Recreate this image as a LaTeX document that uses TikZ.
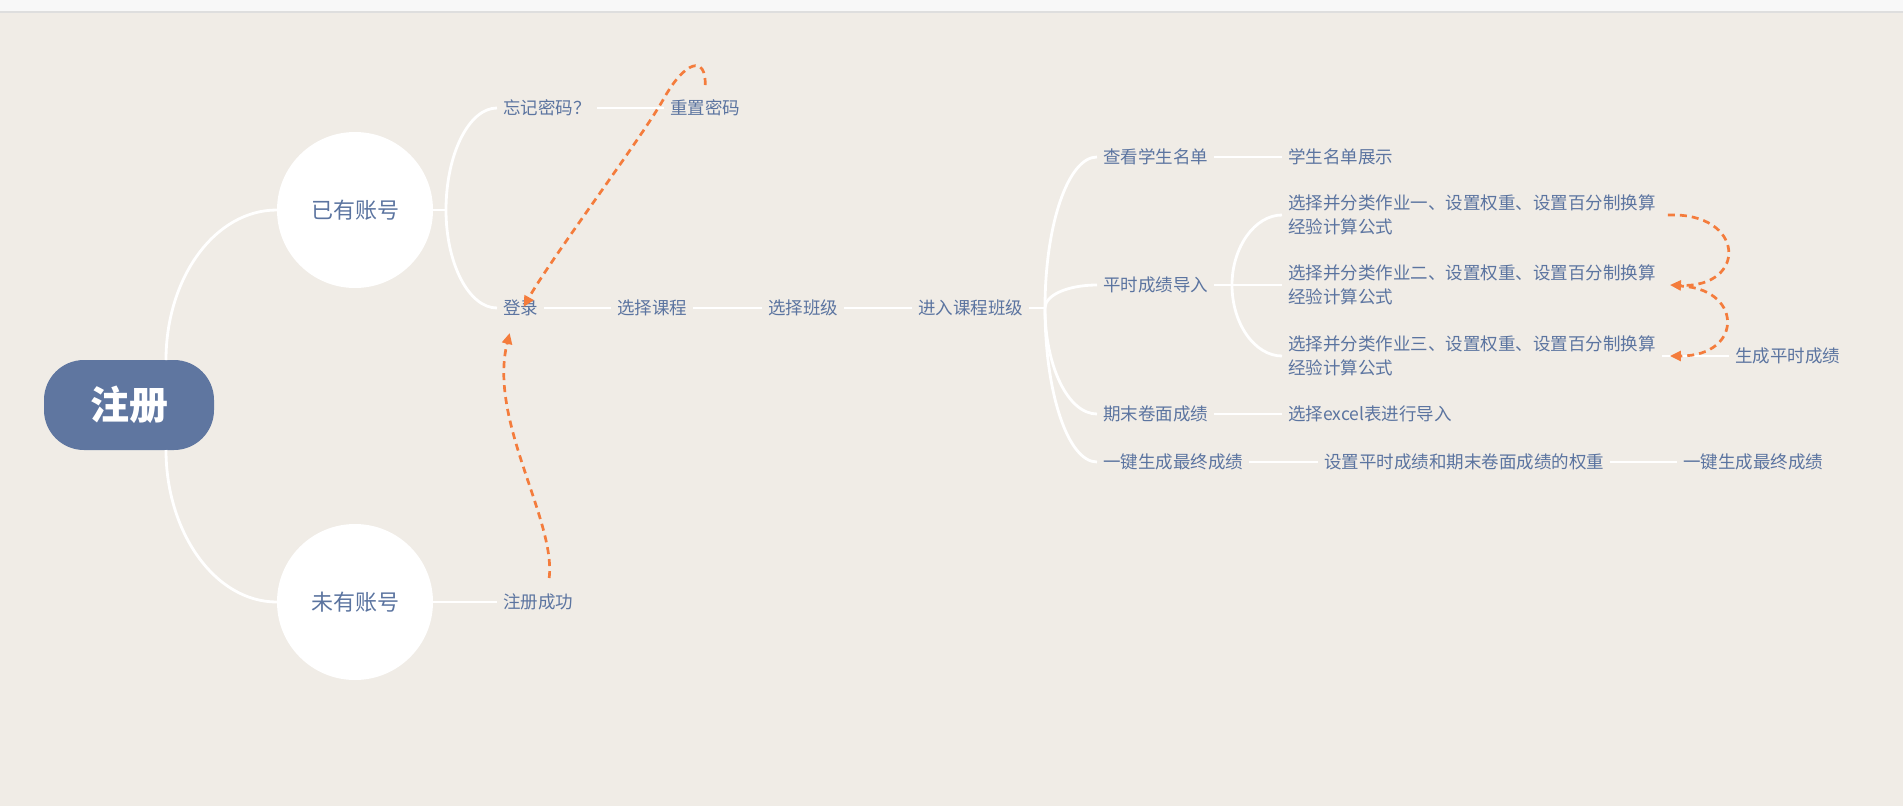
\documentclass[tikz,border=0pt]{standalone}
\usepackage{fontspec}
\setmainfont{Noto Sans CJK SC}
\usetikzlibrary{arrows.meta}
\definecolor{bg}{HTML}{F0ECE6}
\definecolor{topbar}{HTML}{F8F8F8}
\definecolor{topline}{HTML}{DEDEDE}
\definecolor{nodeblue}{HTML}{5F76A0}
\definecolor{txt}{HTML}{5B74A0}
\definecolor{rel}{HTML}{F47C3C}
\begin{document}
\begin{tikzpicture}[x=1pt,y=-1pt,
  lbl/.style={anchor=west, inner xsep=6pt, inner ysep=2pt, text=txt, align=left, font=\fontsize{17.5}{23.5}\selectfont},
  circ/.style={circle, fill=white, minimum size=156pt, inner sep=0pt, text=txt, font=\fontsize{22}{26}\selectfont},
  link/.style={draw=white, line width=2.8pt},
  relarrow/.style={draw=rel, line width=2.7pt, dash pattern=on 7pt off 5pt, -{Triangle[length=11pt,width=10pt]}},
]
\useasboundingbox (0,0) rectangle (1903,806);
\fill[bg] (0,0) rectangle (1903,806);
\fill[topbar] (0,0) rectangle (1903,12);
\draw[topline, line width=1.5pt] (0,12) -- (1903,12);

% nodes
\node[fill=nodeblue, rounded corners=40pt, minimum width=170pt, minimum height=90pt, inner sep=0pt, text=white, font=\fontsize{39}{44}\selectfont\bfseries] (reg) at (129,405) {注册};
\node[circ] (has) at (355,210) {已有账号};
\node[circ] (no) at (355,602) {未有账号};

\node[lbl] (forgot) at (497,108) {忘记密码？};
\node[lbl] (reset) at (664,108) {重置密码};
\node[lbl] (login) at (497,308) {登录};
\node[lbl] (course) at (611,308) {选择课程};
\node[lbl] (cls) at (762,308) {选择班级};
\node[lbl] (enter) at (912,308) {进入课程班级};
\node[lbl] (succ) at (497,602) {注册成功};

\node[lbl] (view) at (1097,157) {查看学生名单};
\node[lbl] (show) at (1282,157) {学生名单展示};
\node[lbl] (usual) at (1097,285) {平时成绩导入};
\node[lbl] (hw1) at (1282,215) {选择并分类作业一、设置权重、设置百分制换算\\经验计算公式};
\node[lbl] (hw2) at (1282,285) {选择并分类作业二、设置权重、设置百分制换算\\经验计算公式};
\node[lbl] (hw3) at (1282,356) {选择并分类作业三、设置权重、设置百分制换算\\经验计算公式};
\node[lbl] (gen) at (1729,356) {生成平时成绩};
\node[lbl] (final) at (1097,414) {期末卷面成绩};
\node[lbl] (excel) at (1282,414) {选择excel表进行导入};
\node[lbl] (onekey) at (1097,462) {一键生成最终成绩};
\node[lbl] (setw) at (1318,462) {设置平时成绩和期末卷面成绩的权重};
\node[lbl] (result) at (1677,462) {一键生成最终成绩};

% branch points
\coordinate (r1) at (166,360);
\coordinate (r2) at (166,450);
\coordinate (hb) at (446,210);
\coordinate (eb) at (1045,308);
\coordinate (ub) at (1232,285);

% white connectors
\draw[link] (r1) .. controls +(0,-82) and +(-62,0) .. (has.west);
\draw[link] (r2) .. controls +(0,82) and +(-62,0) .. (no.west);
\draw[link] (has.east) -- (hb);
\draw[link] (hb) .. controls +(0,-56) and +(-28,0) .. (forgot.west);
\draw[link] (hb) .. controls +(0,54) and +(-28,0) .. (login.west);
\draw[link] (forgot.east) -- (reset.west);
\draw[link] (no.east) -- (succ.west);
\draw[link] (login.east) -- (course.west);
\draw[link] (course.east) -- (cls.west);
\draw[link] (cls.east) -- (enter.west);
\draw[link] (enter.east) -- (eb);
\draw[link] (eb) .. controls +(0,-83) and +(-29,0) .. (view.west);
\draw[link] (eb) .. controls +(0,-13) and +(-29,0) .. (usual.west);
\draw[link] (eb) .. controls +(0,58) and +(-29,0) .. (final.west);
\draw[link] (eb) .. controls +(0,85) and +(-29,0) .. (onekey.west);
\draw[link] (view.east) -- (show.west);
\draw[link] (usual.east) -- (hw2.west);
\draw[link] (ub) .. controls +(0,-38) and +(-27,0) .. (hw1.west);
\draw[link] (ub) .. controls +(0,39) and +(-27,0) .. (hw3.west);
\draw[link] (hw3.east) -- (gen.west);
\draw[link] (final.east) -- (excel.west);
\draw[link] (onekey.east) -- (setw.west);
\draw[link] (setw.east) -- (result.west);

% relationship arrows
\draw[relarrow] ([yshift=23pt]reset.center) .. controls (706,55) and (685,60) .. (663,100) .. controls (640,140) and (550,260) .. ([xshift=3pt,yshift=1pt]login.center);
\draw[relarrow] ([xshift=11pt,yshift=24pt]succ.center) .. controls (556,520) and (488,420) .. ([xshift=-11pt,yshift=-25pt]login.center);
\draw[relarrow] ([xshift=6pt]hw1.east) .. controls +(78,-3) and +(78,3) .. ([xshift=8pt]hw2.east);
\draw[relarrow] ([xshift=15pt,yshift=-1pt]hw2.east) .. controls +(66,0) and +(75,0) .. ([xshift=8pt]hw3.east);
\end{tikzpicture}
\end{document}
